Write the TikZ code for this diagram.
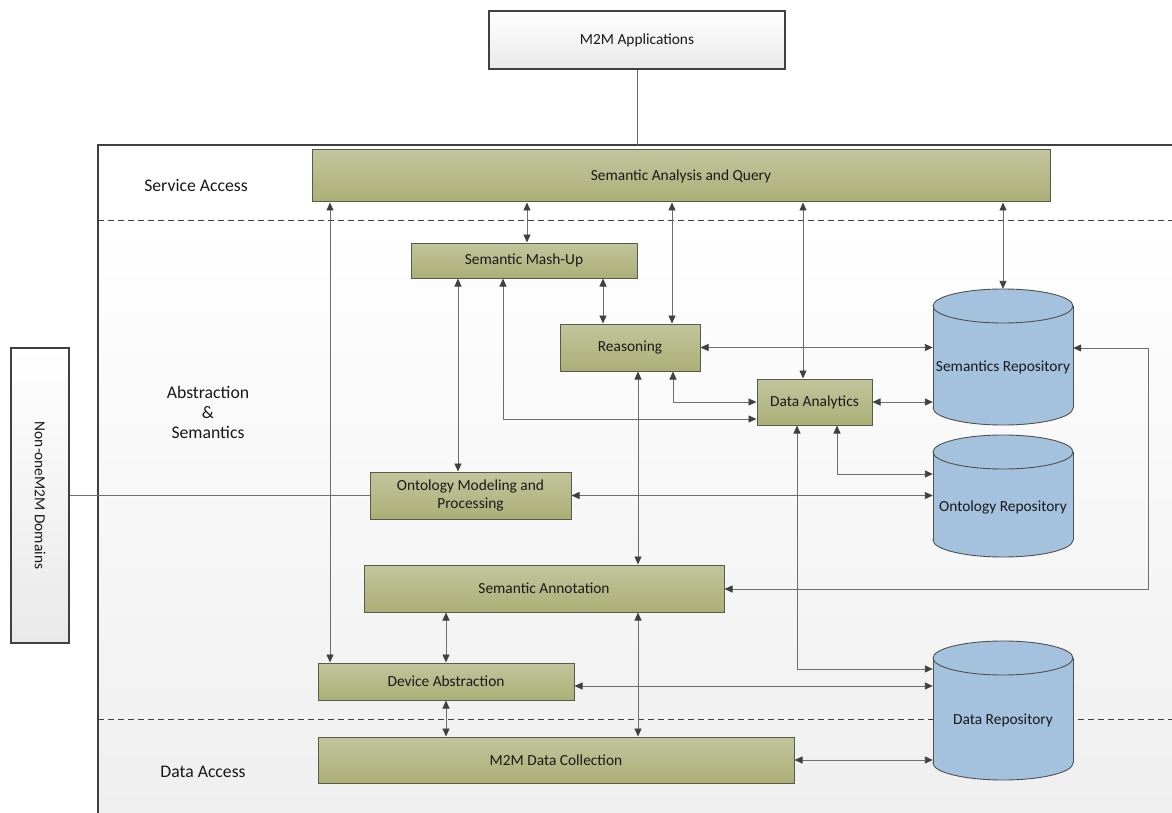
\documentclass[tikz,border=0pt]{standalone}
\usepackage{fontspec}
\setmainfont{Carlito}
\usetikzlibrary{arrows.meta}
\definecolor{oliveT}{HTML}{C2C59C}
\definecolor{oliveB}{HTML}{ABAF76}
\definecolor{boxline}{HTML}{5A5A4C}
\definecolor{cylfill}{HTML}{A4C2DD}
\definecolor{cylline}{HTML}{505050}
\definecolor{conn}{HTML}{6E6E6E}
\definecolor{arrowc}{HTML}{404040}
\definecolor{frame}{HTML}{404040}
\definecolor{bgbot}{HTML}{EFEFEF}
\definecolor{greyB}{HTML}{E9E9E9}
\tikzset{
  boxfont/.style={font=\fontsize{15.4}{18}\selectfont, text=black!90},
  olive/.style={draw=boxline, line width=1pt, top color=oliveT, bottom color=oliveB, inner sep=0pt, boxfont, align=center},
  greybox/.style={draw=frame, line width=1.2pt, top color=white, bottom color=greyB, inner sep=0pt, boxfont},
  repo/.style={inner sep=0pt, minimum width=140pt},
  conn/.style={draw=conn, line width=0.9pt},
  bi/.style={conn, {Triangle[length=8pt,width=7pt,color=arrowc]}-{Triangle[length=8pt,width=7pt,color=arrowc]}},
  region/.style={font=\fontsize{17.7}{21}\selectfont, text=black!90, align=center},
  sep/.style={draw=frame, line width=0.8pt, dash pattern=on 6pt off 4pt}
}
\newcommand{\cyl}[3]{% cx, top-ellipse centre y, bottom-ellipse centre y
  \filldraw[fill=cylfill, draw=cylline, line width=0.9pt] (#1,#3) ellipse [x radius=70pt, y radius=17pt];
  \fill[cylfill] (#1-70,#2) rectangle (#1+70,#3);
  \draw[cylline, line width=0.9pt] (#1-70,#2) -- (#1-70,#3) (#1+70,#2) -- (#1+70,#3);
  \filldraw[fill=cylfill, draw=cylline, line width=0.9pt] (#1,#2) ellipse [x radius=70pt, y radius=17pt];
}
\begin{document}
\begin{tikzpicture}[x=1pt,y=-1pt]
\useasboundingbox (0,0) rectangle (1172,813);
% container
\fill[white] (98,145) rectangle (1172,220);
\fill[top color=white, bottom color=bgbot] (98,220) rectangle (1172,813);
\draw[sep] (98,220) -- (1172,220);
\draw[sep] (98,719) -- (1172,719);
\draw[frame, line width=2.2pt] (98,813) -- (98,145) -- (1172,145);
\coordinate (ctop) at (637,145);

% region labels
\node[region] (lsa) at (196,185) {Service Access};
\node[region] (las) at (208,412) {Abstraction\\[-1pt]\&\\[-1pt]Semantics};
\node[region] (lda) at (203,772) {Data Access};

% outside boxes
\node[greybox, minimum width=296pt, minimum height=58pt] (apps) at (637,40) {M2M Applications};
\node[greybox, minimum width=58pt, minimum height=295pt] (non) at (40,495.5) {};
\node[boxfont, rotate=-90] (nontext) at (40,495.5) {Non-oneM2M Domains};

% repositories
\cyl{1003}{306}{408}
\cyl{1003}{452}{540}
\cyl{1003}{658}{763}
\node[repo, minimum height=136pt] (srepo) at (1003,357) {};
\node[repo, minimum height=122pt] (orepo) at (1003,496) {};
\node[repo, minimum height=139pt] (drepo) at (1003,710.5) {};
\node[boxfont] (srepot) at (1003,367) {Semantics Repository};
\node[boxfont] (orepot) at (1003,507) {Ontology Repository};
\node[boxfont] (drepot) at (1003,720) {Data Repository};

% olive boxes
\node[olive, minimum width=738pt, minimum height=52pt] (saq) at (681,176) {Semantic Analysis and Query};
\node[olive, minimum width=226pt, minimum height=35pt] (mash) at (524,260.5) {Semantic Mash-Up};
\node[olive, minimum width=140pt, minimum height=47pt] (reas) at (630,347.5) {Reasoning};
\node[olive, minimum width=115pt, minimum height=46pt] (dan) at (814.5,402) {Data Analytics};
\node[olive, minimum width=201pt, minimum height=47pt] (omp) at (470.5,495.5) {Ontology Modeling and\\Processing};
\node[olive, minimum width=360pt, minimum height=47pt] (sann) at (544,588.5) {Semantic Annotation};
\node[olive, minimum width=256pt, minimum height=37pt] (devabs) at (446,681.5) {Device Abstraction};
\node[olive, minimum width=476pt, minimum height=46pt] (mdc) at (556,760) {M2M Data Collection};

% plain connectors
\draw[draw=frame!80, line width=0.9pt] (apps.south) -- (ctop);
\draw[conn] (non.east) -- (omp.west);

% bidirectional connectors
\draw[bi] (330,0 |- saq.south) -- (330,0 |- devabs.north);
\draw[bi] (527,0 |- saq.south) -- (527,0 |- mash.north);
\draw[bi] (672,0 |- saq.south) -- (672,0 |- reas.north);
\draw[bi] (803,0 |- saq.south) -- (803,0 |- dan.north);
\draw[bi] (saq.south -| srepo.north) -- (srepo.north);
\draw[bi] (603,0 |- mash.south) -- (603,0 |- reas.north);
\draw[bi] (458,0 |- mash.south) -- (458,0 |- omp.north);
\draw[bi] (503,0 |- mash.south) -- (503,419) -- (dan.west |- 0,419);
\draw[bi] (673,0 |- reas.south) -- (673,402) -- (dan.west);
\draw[bi] (reas.east) -- (reas.east -| srepo.west);
\draw[bi] (dan.east) -- (dan.east -| srepo.west);
\draw[bi] (638,0 |- reas.south) -- (638,0 |- sann.north);
\draw[bi] (837,0 |- dan.south) -- (837,474) -- (orepo.west |- 0,474);
\draw[bi] (omp.east) -- (omp.east -| orepo.west);
\draw[bi] (797,0 |- dan.south) -- (797,669) -- (drepo.west |- 0,669);
\draw[bi] (devabs.east |- 0,686) -- (drepo.west |- 0,686);
\draw[bi] (mdc.east) -- (mdc.east -| drepo.west);
\draw[bi] (srepo.east |- 0,348) -- (1148,348) -- (1148,589) -- (sann.east |- 0,589);
\draw[bi] (446,0 |- sann.south) -- (446,0 |- devabs.north);
\draw[bi] (638,0 |- sann.south) -- (638,0 |- mdc.north);
\draw[bi] (446,0 |- devabs.south) -- (446,0 |- mdc.north);
\end{tikzpicture}
\end{document}
